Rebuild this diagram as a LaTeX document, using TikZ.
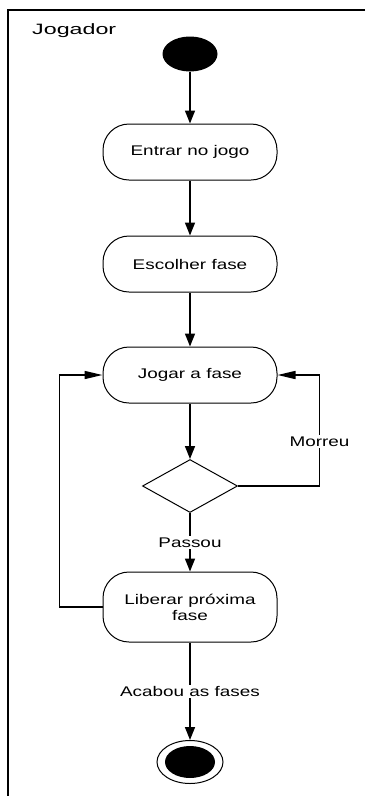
\documentclass[tikz,border=0pt]{standalone}
\usepackage{fontspec}
\setmainfont{Liberation Sans}[FakeStretch=1.35]
\newfontfamily\lanefont{Liberation Sans}[FakeStretch=1.55]
\usetikzlibrary{positioning,arrows.meta,shapes.geometric}

\begin{document}
\begin{tikzpicture}[x=1pt,y=-1pt,
		acao/.style={draw,line width=1pt,rounded corners=26pt,minimum width=174pt,minimum height=56pt,align=center,inner sep=2pt,font=\fontsize{14}{16}\selectfont},
		lbl/.style={fill=white,inner sep=1.5pt,font=\fontsize{14}{16}\selectfont},
		varrow/.style={line width=1.5pt,-{Triangle[length=13pt,width=10pt]}},
		harrow/.style={line width=1.5pt,-{Triangle[length=18pt,width=8pt]}}]
		\useasboundingbox (0,0) rectangle (365,796);
		% raia do jogador
		\draw[line width=1.8pt] (365,10) -- (8,10) -- (8,796);
		\node[anchor=base west,inner sep=0pt,font=\lanefont\fontsize{15}{17}\selectfont] (raia) at (32,34) {Jogador};
		% estados
		\node[ellipse,fill=black,minimum width=55pt,minimum height=35pt,inner sep=0pt] (inicio) at (190,54) {};
		\node[acao] (entrar) at (190,152) {Entrar no jogo};
		\node[acao] (escolher) at (190,264) {Escolher fase};
		\node[acao] (jogar) at (190,375) {Jogar a fase};
		\node[diamond,draw,line width=1pt,minimum width=95pt,minimum height=53pt,inner sep=0pt] (decisao) at (190,486) {};
		\node[acao,minimum height=70pt] (liberar) at (190,607) {Liberar próxima\\fase};
		\node[ellipse,draw,line width=1pt,fill=white,minimum width=66pt,minimum height=43pt,inner sep=0pt] (fim) at (190,762) {};
		\node[ellipse,fill=black,minimum width=50pt,minimum height=32pt,inner sep=0pt] (fimcore) at (fim) {};
		% transicoes
		\draw[varrow] (inicio) -- (entrar);
		\draw[varrow] (entrar) -- (escolher);
		\draw[varrow] (escolher) -- (jogar);
		\draw[varrow] (jogar) -- (decisao);
		\draw[varrow] (decisao.south) -- node[lbl]{Passou} (liberar.north);
		\draw[harrow] (decisao.east) -| ([xshift=42pt]jogar.east) node[lbl,pos=0.7]{Morreu} -- (jogar.east);
		\draw[harrow] (liberar.west) -| ([xshift=-43pt]jogar.west) -- (jogar.west);
		\draw[varrow] (liberar.south) -- node[lbl]{Acabou as fases} (fim.north);
	\end{tikzpicture}
\end{document}
